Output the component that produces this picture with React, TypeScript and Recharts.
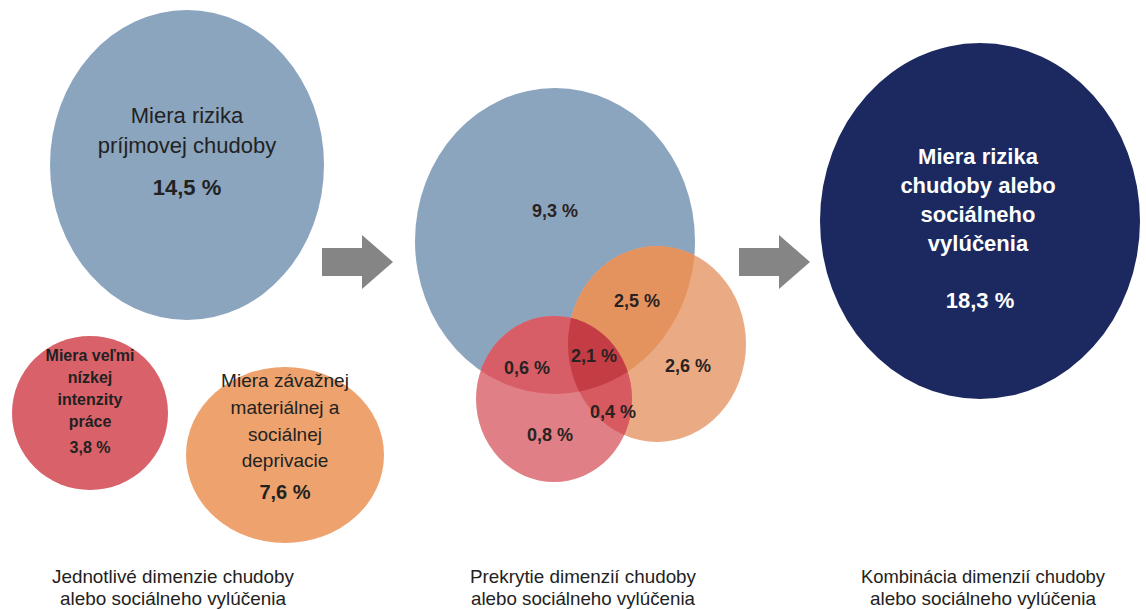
import React from "react";
import { ScatterChart, Scatter, XAxis, YAxis } from "recharts";

const W = 1146;
const H = 610;

// circles: centre (x, y) and radii in chart units
const leftCircles = [
  { key: "income", x: 187, y: 165, rx: 137, ry: 155 },
  { key: "work", x: 90, y: 413, rx: 78, ry: 77 },
  { key: "depr", x: 285, y: 455, rx: 99, ry: 88 },
];
const overlapCircles = [
  { key: "incomeO", x: 555, y: 241, rx: 140, ry: 153 },
  { key: "deprO", x: 657, y: 344, rx: 89, ry: 98 },
  { key: "workO", x: 554, y: 399, rx: 78, ry: 83 },
];
// overlap regions: base circle clipped by the other circles
const overlapRegions = [
  { id: "inc_depr", base: "deprO", clips: ["incomeO"] },
  { id: "inc_work", base: "workO", clips: ["incomeO"] },
  { id: "depr_work", base: "workO", clips: ["deprO"] },
  { id: "all", base: "workO", clips: ["incomeO", "deprO"] },
];
const totalCircle = [{ key: "total", x: 980, y: 221, rx: 160, ry: 178 }];

const arrows = [
  { x: 357, y: 262 },
  { x: 774, y: 262 },
];

const leftLabels = [
  { x: 187, y: 123, text: "Miera rizika", kind: "big" },
  { x: 187, y: 153, text: "príjmovej chudoby", kind: "big" },
  { x: 187, y: 195, text: "14,5 %", kind: "bigB" },
  { x: 90, y: 361, text: "Miera veľmi", kind: "smallB" },
  { x: 90, y: 383, text: "nízkej", kind: "smallB" },
  { x: 90, y: 405, text: "intenzity", kind: "smallB" },
  { x: 90, y: 427, text: "práce", kind: "smallB" },
  { x: 90, y: 453, text: "3,8 %", kind: "smallB" },
  { x: 285, y: 387, text: "Miera závažnej", kind: "mid" },
  { x: 285, y: 414, text: "materiálnej a", kind: "mid" },
  { x: 285, y: 441, text: "sociálnej", kind: "mid" },
  { x: 285, y: 467, text: "deprivacie", kind: "mid" },
  { x: 285, y: 499, text: "7,6 %", kind: "midB" },
];
const overlapLabels = [
  { x: 555, y: 217, text: "9,3 %" },
  { x: 637, y: 307, text: "2,5 %" },
  { x: 688, y: 372, text: "2,6 %" },
  { x: 527, y: 374, text: "0,6 %" },
  { x: 594, y: 362, text: "2,1 %" },
  { x: 613, y: 418, text: "0,4 %" },
  { x: 550, y: 441, text: "0,8 %" },
];
const totalLabels = [
  { x: 978, y: 164, text: "Miera rizika" },
  { x: 978, y: 193, text: "chudoby alebo" },
  { x: 978, y: 222, text: "sociálneho" },
  { x: 978, y: 251, text: "vylúčenia" },
  { x: 980, y: 308, text: "18,3 %" },
];
const captions = [
  { x: 173, y: 583, text: "Jednotlivé dimenzie chudoby", len: 242 },
  { x: 173, y: 605, text: "alebo sociálneho vylúčenia", len: 226 },
  { x: 583, y: 583, text: "Prekrytie dimenzií chudoby", len: 226 },
  { x: 583, y: 605, text: "alebo sociálneho vylúčenia", len: 224 },
  { x: 983, y: 583, text: "Kombinácia dimenzií chudoby", len: 244 },
  { x: 983, y: 605, text: "alebo sociálneho vylúčenia", len: 226 },
];

const FILLS: Record<string, string> = {
  income: "#8BA5BF",
  work: "#D9616A",
  depr: "#EEA26D",
  incomeO: "#8CA5BE",
  deprO: "#EAAB84",
  workO: "#E07F85",
  inc_depr: "#E5935E",
  inc_work: "#D75E67",
  depr_work: "#D65A5F",
  all: "#C43C44",
  total: "#1B2960",
};

const LABEL_STYLE: Record<string, any> = {
  big: { fontSize: 22, fontWeight: 400 },
  bigB: { fontSize: 22, fontWeight: 700 },
  mid: { fontSize: 19, fontWeight: 400 },
  midB: { fontSize: 20, fontWeight: 700 },
  smallB: { fontSize: 16, fontWeight: 700 },
};

const FONT = "'Liberation Sans', Arial, sans-serif";

const circleByKey: Record<string, any> = {};
overlapCircles.forEach((c) => (circleByKey[c.key] = c));

const regionData = overlapRegions.map((r) => {
  const b = circleByKey[r.base];
  return { ...r, key: r.id, x: b.x, y: b.y, rx: b.rx, ry: b.ry };
});

const Ellipse = (props: any) => {
  const { cx, cy, payload } = props;
  return (
    <ellipse cx={cx} cy={cy} rx={payload.rx} ry={payload.ry} fill={FILLS[payload.key]} />
  );
};

// ellipse clipped by other ellipses (scale is 1 unit = 1px, so offsets carry over)
const Region = (props: any) => {
  const { cx, cy, payload } = props;
  const dx = cx - payload.x;
  const dy = cy - payload.y;
  let el: any = (
    <ellipse cx={cx} cy={cy} rx={payload.rx} ry={payload.ry} fill={FILLS[payload.id]} />
  );
  payload.clips.forEach((k: string) => {
    el = <g clipPath={`url(#clip-${payload.id}-${k})`}>{el}</g>;
  });
  return (
    <g>
      <defs>
        {payload.clips.map((k: string) => {
          const c = circleByKey[k];
          return (
            <clipPath key={k} id={`clip-${payload.id}-${k}`}>
              <ellipse cx={c.x + dx} cy={c.y + dy} rx={c.rx} ry={c.ry} />
            </clipPath>
          );
        })}
      </defs>
      {el}
    </g>
  );
};

const Arrow = (props: any) => {
  const { cx, cy } = props;
  const pts = [
    [cx - 35, cy - 14],
    [cx + 5, cy - 14],
    [cx + 5, cy - 27],
    [cx + 36, cy],
    [cx + 5, cy + 27],
    [cx + 5, cy + 14],
    [cx - 35, cy + 14],
  ]
    .map((p) => p.join(","))
    .join(" ");
  return <polygon points={pts} fill="#858585" />;
};

const makeText = (color: string, style: (p: any) => any) => (props: any) => {
  const { cx, cy, payload } = props;
  return (
    <text x={cx} y={cy} textAnchor="middle" fill={color} fontFamily={FONT} {...style(payload)}>
      {payload.text}
    </text>
  );
};

const LeftText = makeText("#222", (p) => LABEL_STYLE[p.kind]);
const OverlapText = makeText("#2a2222", () => ({ fontSize: 18, fontWeight: 700 }));
const TotalText = makeText("#fff", () => ({ fontSize: 22, fontWeight: 700 }));
const CaptionText = (props: any) => {
  const { cx, cy, payload } = props;
  return (
    <text
      x={cx - payload.len / 2}
      y={cy}
      fill="#222"
      fontFamily={FONT}
      fontSize={19}
      textLength={payload.len}
      lengthAdjust="spacingAndGlyphs"
    >
      {payload.text}
    </text>
  );
};

export default function App() {
  return (
    <div style={{ position: "absolute", left: 0, top: 0, background: "#fff" }}>
      <ScatterChart width={W} height={H} margin={{ top: 0, right: 0, bottom: 0, left: 0 }}>
        <XAxis type="number" dataKey="x" domain={[0, W]} hide />
        <YAxis type="number" dataKey="y" domain={[0, H]} reversed hide />
        <Scatter data={leftCircles} shape={Ellipse} isAnimationActive={false} />
        <Scatter data={overlapCircles} shape={Ellipse} isAnimationActive={false} />
        <Scatter data={regionData} shape={Region} isAnimationActive={false} />
        <Scatter data={totalCircle} shape={Ellipse} isAnimationActive={false} />
        <Scatter data={arrows} shape={Arrow} isAnimationActive={false} />
        <Scatter data={leftLabels} shape={LeftText} isAnimationActive={false} />
        <Scatter data={overlapLabels} shape={OverlapText} isAnimationActive={false} />
        <Scatter data={totalLabels} shape={TotalText} isAnimationActive={false} />
        <Scatter data={captions} shape={CaptionText} isAnimationActive={false} />
      </ScatterChart>
    </div>
  );
}
